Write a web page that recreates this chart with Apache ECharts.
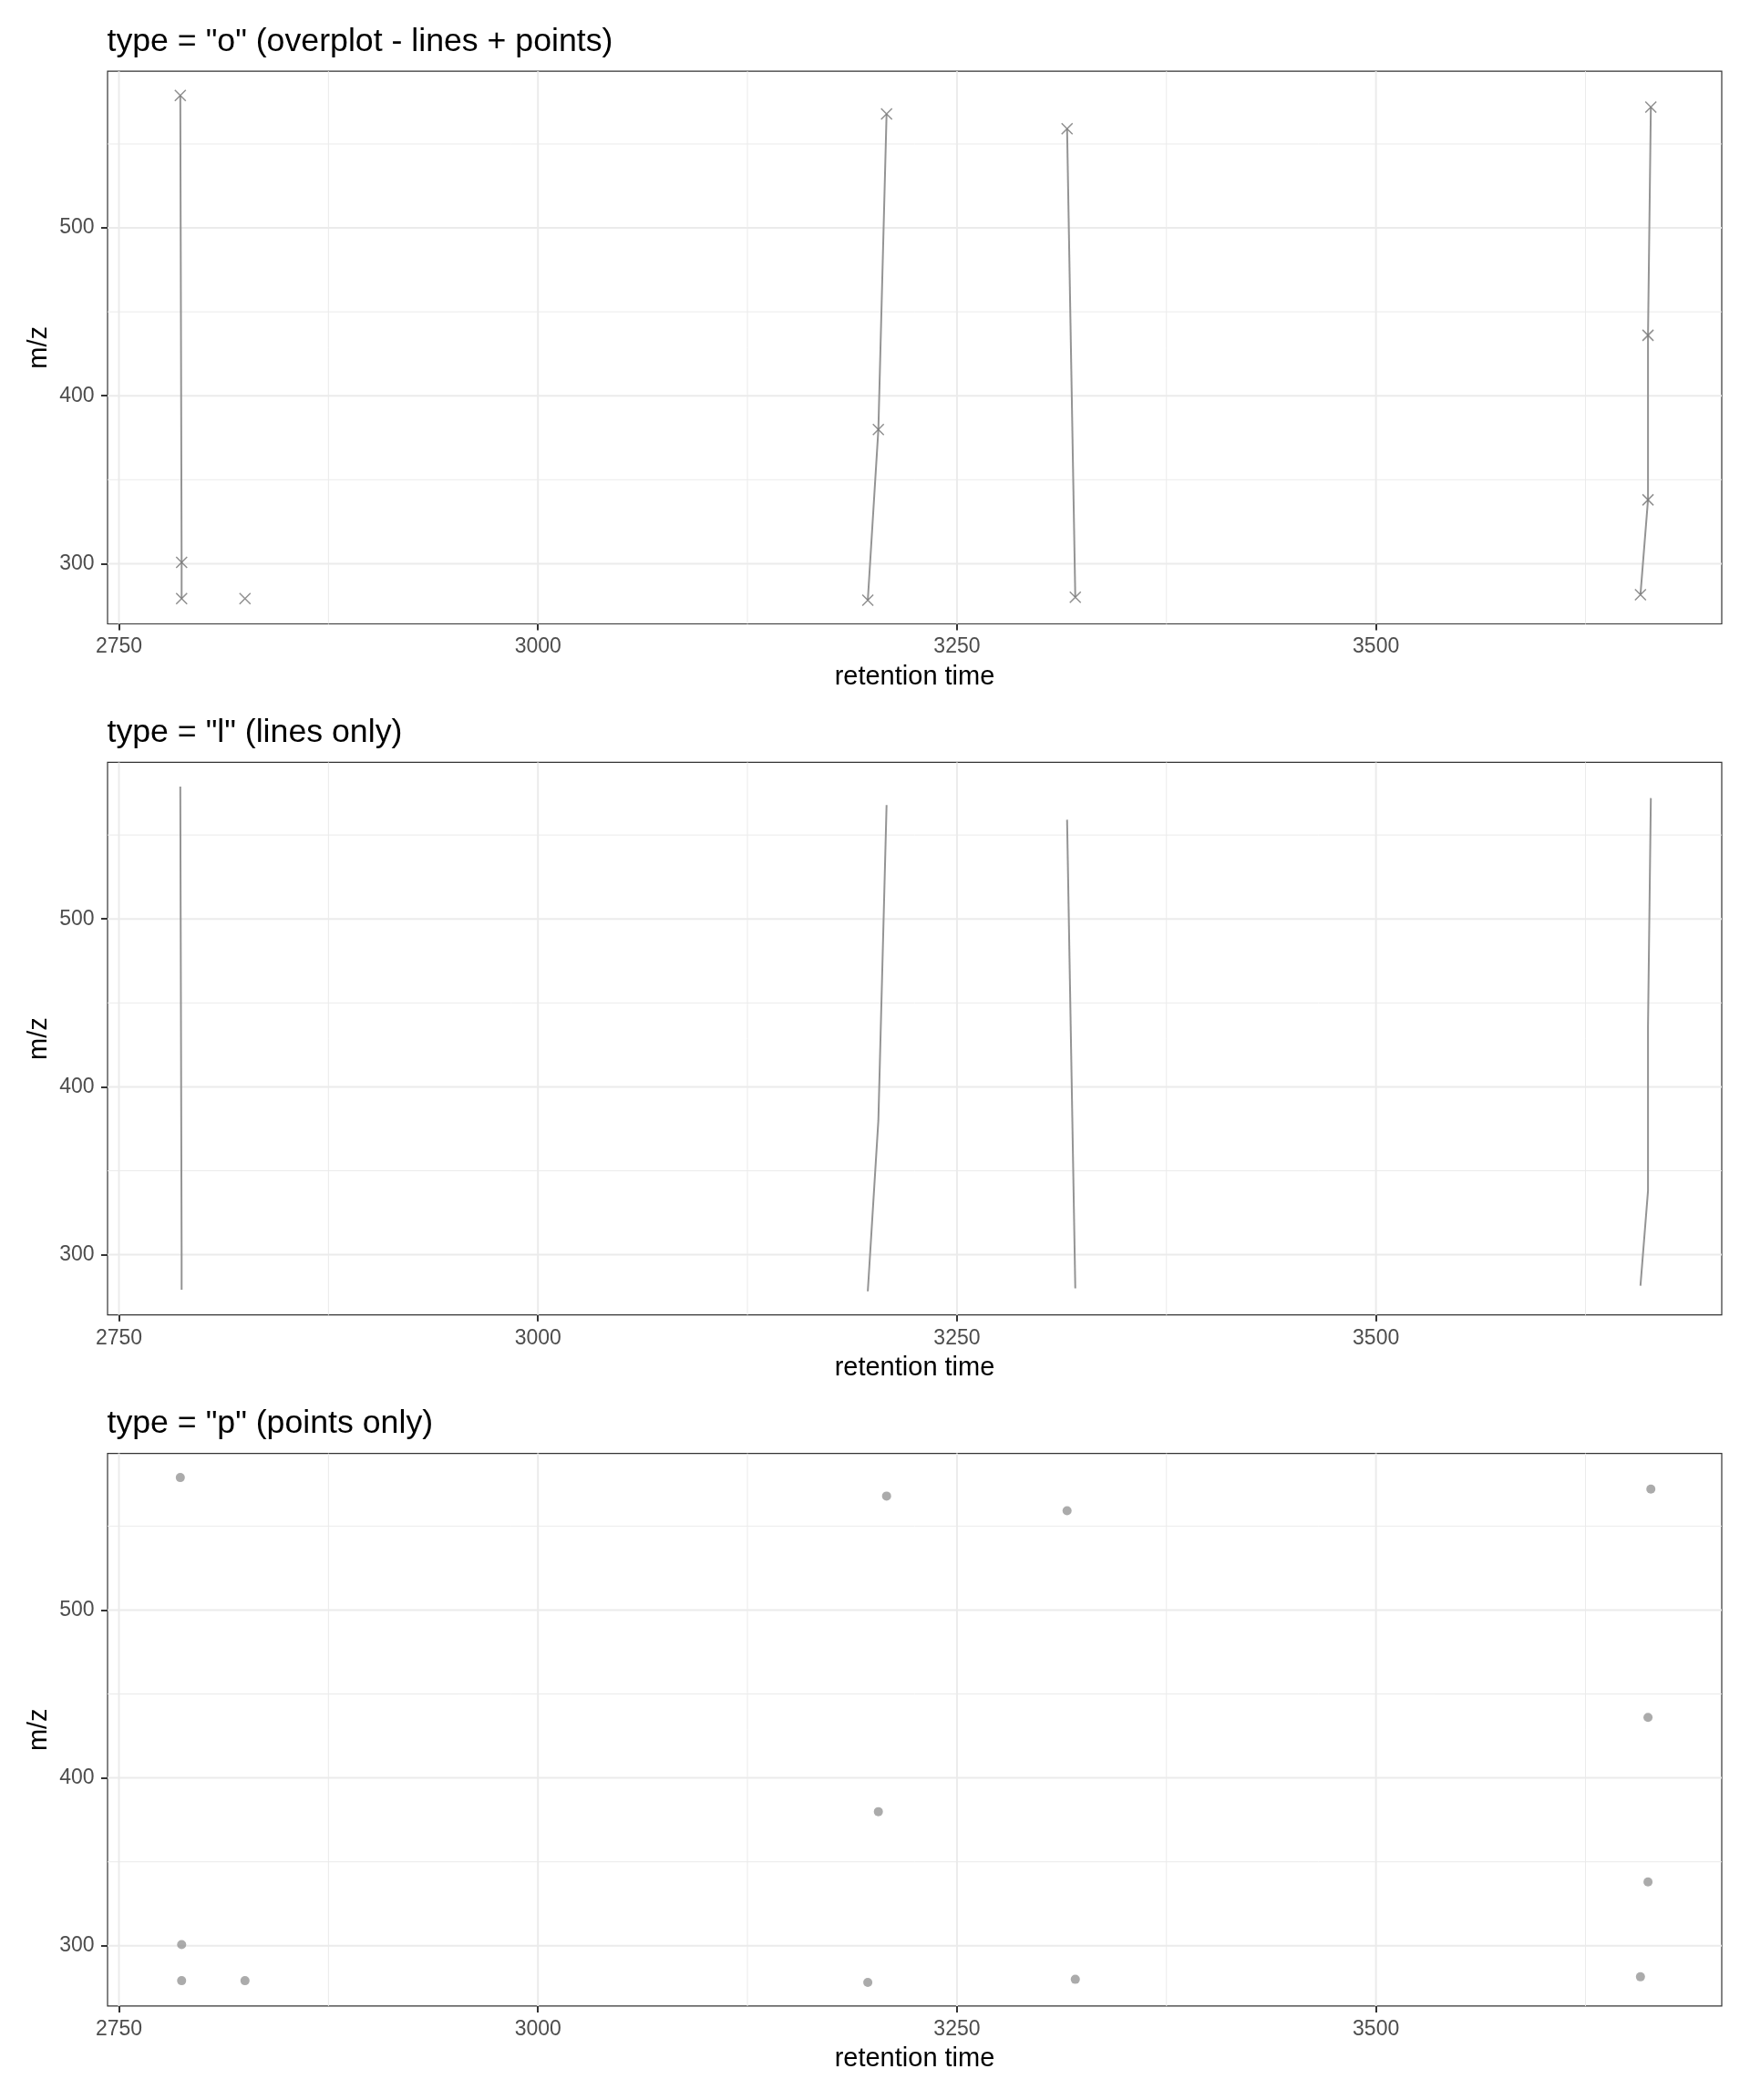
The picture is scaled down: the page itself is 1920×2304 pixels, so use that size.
<!DOCTYPE html>
<html>
<head>
<meta charset="utf-8">
<script src="https://cdn.jsdelivr.net/npm/echarts@6/dist/echarts.min.js"></script>
<style>
  html, body { margin: 0; padding: 0; background: #ffffff; }
  #chart { width: 1920px; height: 2304px; }
</style>
</head>
<body>
<div id="chart"></div>
<script>
// ---- data ----
const retentionTime = [2786.6, 2787.4, 2787.4, 2825.2, 3196.8, 3203.1, 3208.0, 3315.7, 3320.6, 3657.8, 3662.3, 3662.3, 3664.0];
const mzValues      = [578.9, 300.7, 279.2, 279.2, 278.2, 379.9, 567.9, 559.1, 280.0, 281.5, 338.0, 436.0, 572.0];
const groupIds      = [1, 1, 1, 2, 3, 3, 3, 4, 4, 5, 5, 5, 5];

const xTicks = [2750, 3000, 3250, 3500];
const xMinor = [2875, 3125, 3375, 3625];
const yTicks = [300, 400, 500];
const yMinor = [350, 450, 550];

const panelTitles = ['type = "o" (overplot - lines + points)', 'type = "l" (lines only)', 'type = "p" (points only)'];
const panelModes  = ['o', 'l', 'p'];
const xTitle = 'retention time';
const yTitle = 'm/z';

// axis ranges (data range + 5% expansion)
const XMIN = 2743.2, XMAX = 3706.3;
const YMIN = 264.1, YMAX = 593.3;

// ---- layout ----
const FONT = '"Liberation Sans", Arial, Helvetica, sans-serif';
const LEFT = 118, RIGHT = 1889;
const TOPS = [78.2, 836.4, 1594.6];
const H = 606.3;

const grids = [], xAxes = [], yAxes = [], series = [], graphics = [];

// grid line data built from tick arrays
const gridLineData = [];
xTicks.forEach(v => gridLineData.push([v, 0, 1]));
xMinor.forEach(v => gridLineData.push([v, 0, 0]));
yTicks.forEach(v => gridLineData.push([v, 1, 1]));
yMinor.forEach(v => gridLineData.push([v, 1, 0]));

// group points
const groups = {};
retentionTime.forEach((x, i) => {
  const g = groupIds[i];
  (groups[g] = groups[g] || []).push([x, mzValues[i]]);
});
const allPoints = retentionTime.map((x, i) => [x, mzValues[i]]);

const plainLabel = v => String(Math.round(v));

panelModes.forEach((mode, p) => {
  grids.push({
    left: LEFT, width: RIGHT - LEFT, top: TOPS[p], height: H,
    show: true, backgroundColor: '#ffffff', borderColor: '#333333', borderWidth: 1.2, z: 0
  });
  xAxes.push({
    gridIndex: p, type: 'value', min: XMIN, max: XMAX,
    axisLine: { show: false },
    splitLine: { show: false },
    axisTick: { show: true, customValues: xTicks, length: 7, lineStyle: { color: '#333333', width: 2 } },
    axisLabel: { customValues: xTicks, formatter: plainLabel, margin: 14, fontSize: 23, color: '#4d4d4d', fontFamily: FONT }
  });
  yAxes.push({
    gridIndex: p, type: 'value', min: YMIN, max: YMAX,
    axisLine: { show: false },
    splitLine: { show: false },
    axisTick: { show: true, customValues: yTicks, length: 7, lineStyle: { color: '#333333', width: 2 } },
    axisLabel: { customValues: yTicks, formatter: plainLabel, margin: 14.5, fontSize: 23, color: '#4d4d4d', fontFamily: FONT }
  });

  // background grid lines
  series.push({
    type: 'custom', xAxisIndex: p, yAxisIndex: p, z: 1, silent: true, animation: false,
    data: gridLineData,
    renderItem: function (params, api) {
      const v = api.value(0), dir = api.value(1), major = api.value(2);
      let a, b;
      if (dir === 0) { a = api.coord([v, YMIN]); b = api.coord([v, YMAX]); }
      else { a = api.coord([XMIN, v]); b = api.coord([XMAX, v]); }
      return {
        type: 'line', silent: true,
        shape: { x1: a[0], y1: a[1], x2: b[0], y2: b[1] },
        style: { stroke: '#ebebeb', lineWidth: major ? 2 : 1 }
      };
    }
  });

  if (mode === 'o' || mode === 'l') {
    Object.keys(groups).forEach(g => {
      if (groups[g].length < 2) return;
      series.push({
        type: 'line', xAxisIndex: p, yAxisIndex: p, z: 2,
        data: groups[g], showSymbol: false, symbol: 'none', silent: true,
        lineStyle: { color: '#949494', width: 2 }, animation: false
      });
    });
  }
  if (mode === 'o') {
    series.push({
      type: 'scatter', xAxisIndex: p, yAxisIndex: p, z: 3,
      data: allPoints, symbol: 'path://M0,0L10,10M0,10L10,0', symbolSize: 12, silent: true,
      itemStyle: { color: 'none', borderColor: '#747474', borderWidth: 1.5 }, animation: false
    });
  }
  if (mode === 'p') {
    series.push({
      type: 'scatter', xAxisIndex: p, yAxisIndex: p, z: 3,
      data: allPoints, symbol: 'circle', symbolSize: 10, silent: true,
      itemStyle: { color: '#969696' }, animation: false
    });
  }

  // titles and axis titles
  graphics.push({
    type: 'text', x: 117.5, y: TOPS[p] - 32, silent: true,
    style: { text: panelTitles[p], font: '35.7px ' + FONT, fill: '#000000', align: 'left', verticalAlign: 'middle' }
  });
  graphics.push({
    type: 'text', x: (LEFT + RIGHT) / 2, y: TOPS[p] + H + 58, silent: true,
    style: { text: xTitle, font: '29px ' + FONT, fill: '#000000', align: 'center', verticalAlign: 'middle' }
  });
  graphics.push({
    type: 'text', x: 42.5, y: TOPS[p] + H / 2, rotation: Math.PI / 2, silent: true,
    style: { text: yTitle, font: '29px ' + FONT, fill: '#000000', align: 'center', verticalAlign: 'middle' }
  });
});

const chart = echarts.init(document.getElementById('chart'), null, { renderer: 'canvas' });
chart.setOption({
  backgroundColor: '#ffffff',
  animation: false,
  grid: grids,
  xAxis: xAxes,
  yAxis: yAxes,
  series: series,
  graphic: graphics
});
</script>
</body>
</html>
